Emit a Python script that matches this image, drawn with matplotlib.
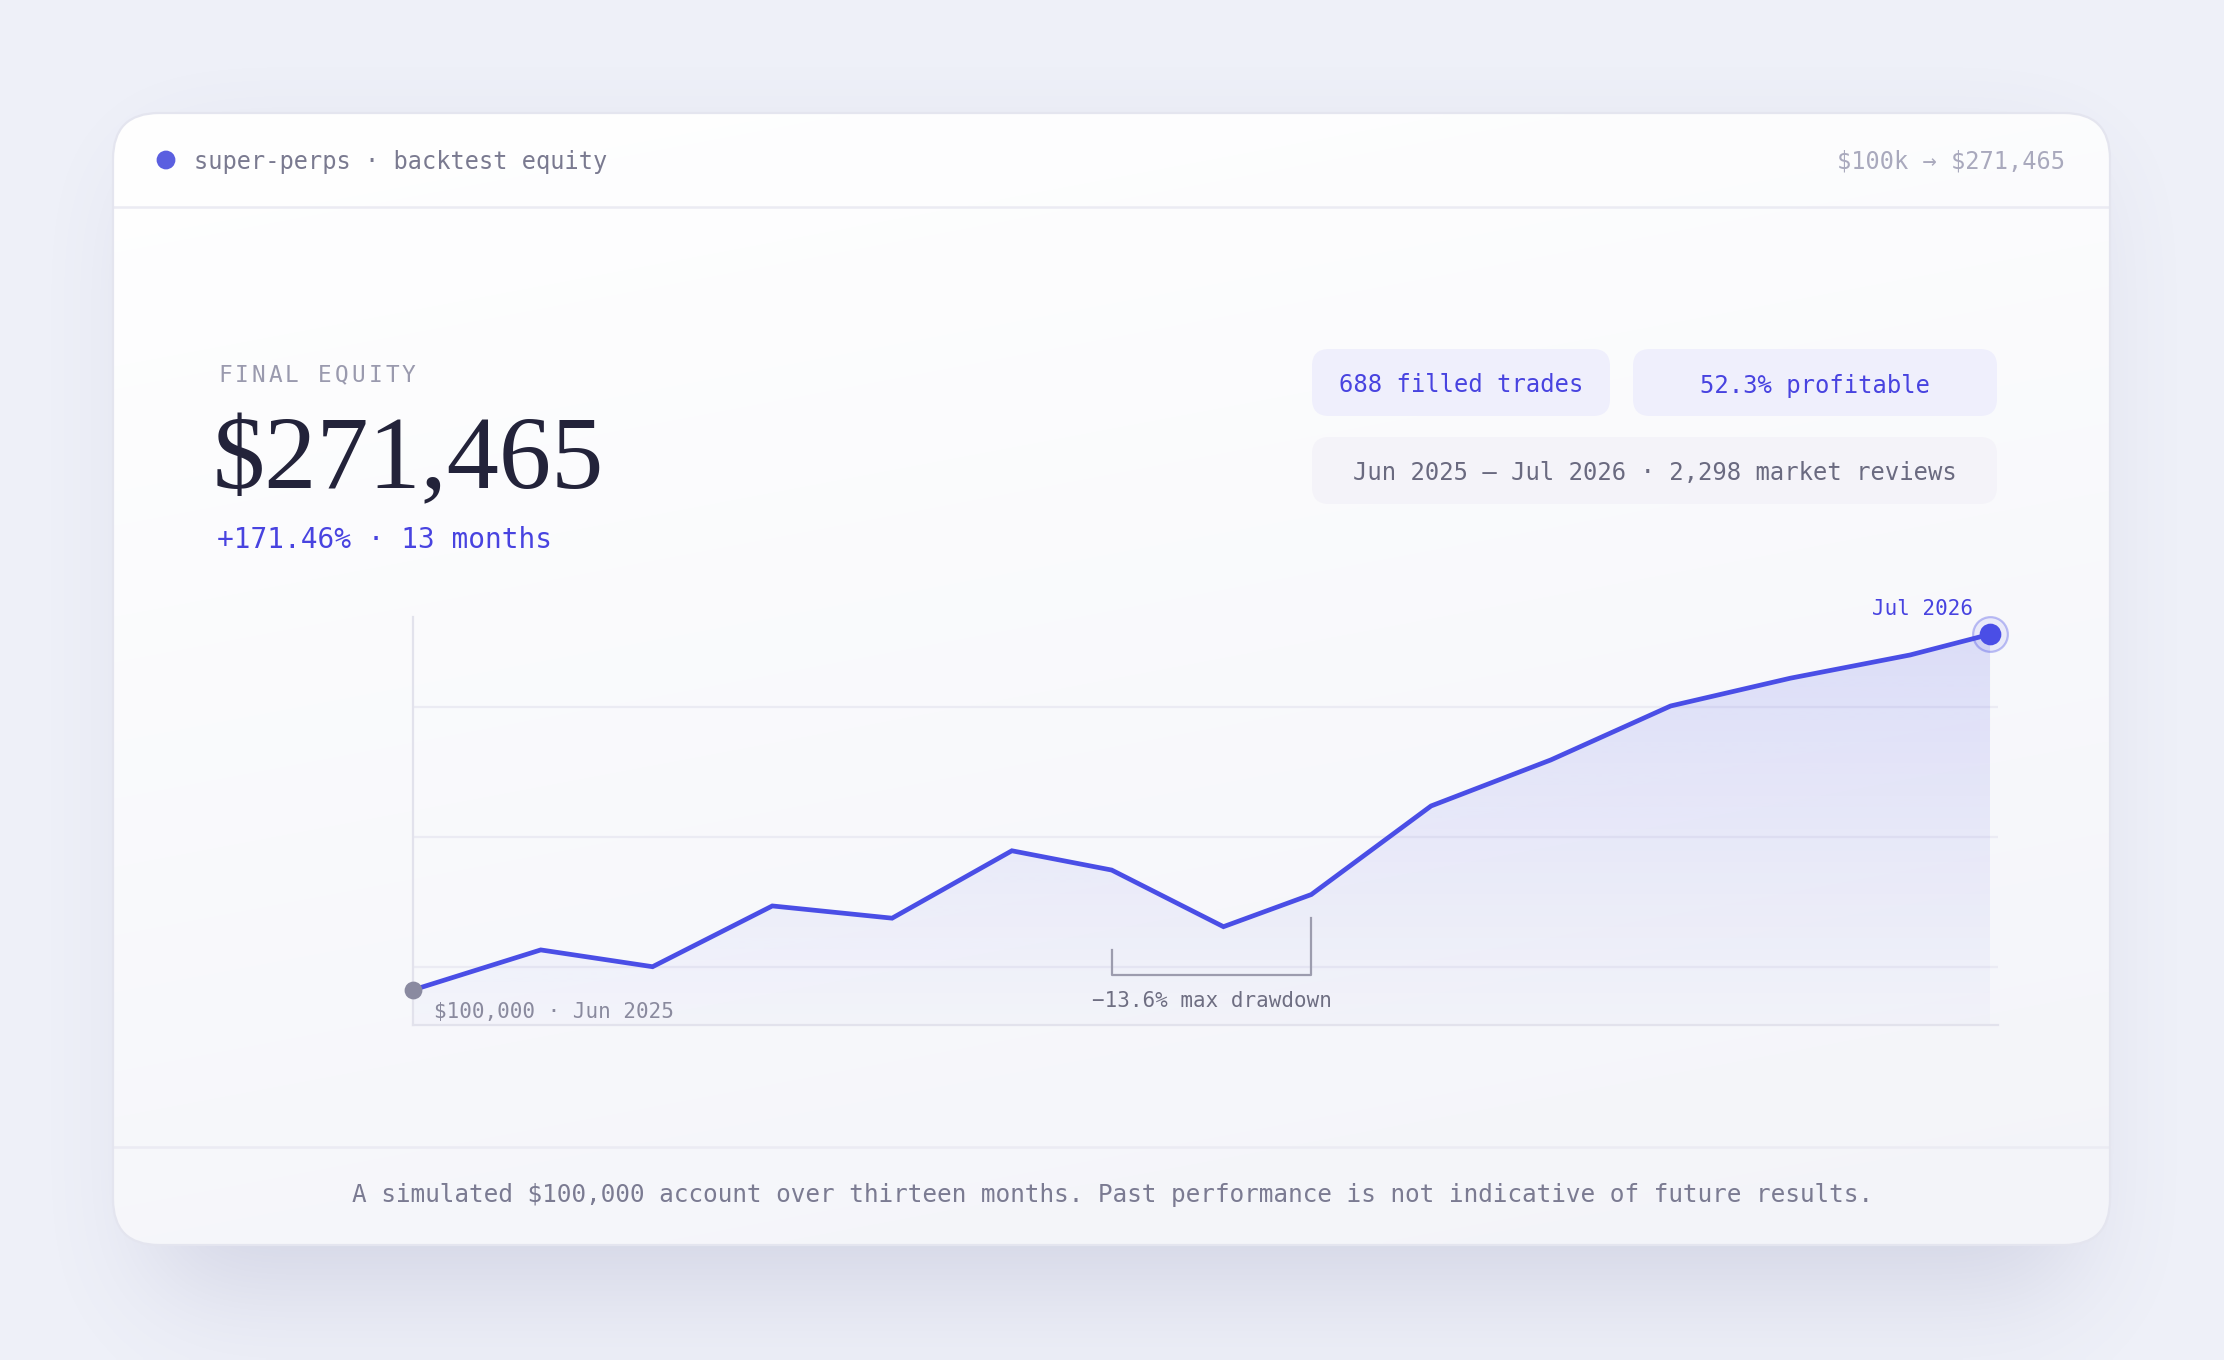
import matplotlib.pyplot as plt
import numpy as np
from matplotlib.patches import FancyBboxPatch, Circle

plt.rcParams['text.parse_math'] = False

# ---- data ----
days = [0, 32, 60, 90, 120, 150, 175, 203, 225, 255, 285, 315, 345, 375, 395]
equity = [100000, 119300, 111200, 140500, 134600, 167100, 157800, 130500,
          146000, 188700, 210900, 236900, 250300, 261500, 271465]
grid_values = [111200, 173900, 236600]
dd_start, dd_end = 175, 225
dd_bracket = [119300, 134700, 107200]   # left top, right top, bottom

header_left = 'super-perps · backtest equity'
header_right = '$100k → $271,465'
kicker = 'FINAL EQUITY'
final_value = '$271,465'
gain_text = '+171.46% · 13 months'
pills = ['688 filled trades', '52.3% profitable']
period_text = 'Jun 2025 — Jul 2026 · 2,298 market reviews'
start_label = '$100,000 · Jun 2025'
end_label = 'Jul 2026'
drawdown_label = '−13.6% max drawdown'
footer_text = ('A simulated $100,000 account over thirteen months. '
               'Past performance is not indicative of future results.')

# ---- style ----
W, H, DPI = 2224, 1360, 200
BG = '#eef0f8'
INDIGO = '#4a4ee6'
INDIGO_TXT = '#4843e0'
MONO = ['DejaVu Sans Mono', 'DejaVu Sans']

fig = plt.figure(figsize=(W / DPI, H / DPI), dpi=DPI, facecolor=BG)
bg = fig.add_axes([0, 0, 1, 1])
bg.set_xlim(0, W)
bg.set_ylim(H, 0)
bg.axis('off')

# soft shadow under the card
s = 4
hh, ww = H // s, W // s
yy, xx = np.mgrid[0:hh, 0:ww]
cx0, cx1, cy0, cy1, r = 150 / s, 2075 / s, 165 / s, 1290 / s, 50 / s
dx = np.maximum(np.maximum(cx0 + r - xx, xx - (cx1 - r)), 0)
dy = np.maximum(np.maximum(cy0 + r - yy, yy - (cy1 - r)), 0)
mask = ((dx ** 2 + dy ** 2) <= r ** 2).astype(float)


def box_blur(a, k):
    for axis in (0, 1):
        c = np.cumsum(np.pad(a, [(k + 1, k) if i == axis else (0, 0) for i in range(2)], mode='edge'), axis=axis)
        if axis == 0:
            a = (c[2 * k + 1:] - c[:-2 * k - 1]) / (2 * k + 1)
        else:
            a = (c[:, 2 * k + 1:] - c[:, :-2 * k - 1]) / (2 * k + 1)
    return a


for _ in range(3):
    mask = box_blur(mask, 12)
shadow = np.zeros((hh, ww, 4))
shadow[..., 0], shadow[..., 1], shadow[..., 2] = 0.42, 0.44, 0.62
shadow[..., 3] = mask * 0.2
bg.imshow(shadow, extent=[0, W, H, 0], zorder=0, interpolation='bilinear', aspect='auto')

# card
card = FancyBboxPatch((113, 113), 1997, 1132, boxstyle='round,pad=0,rounding_size=46',
                      facecolor='none', edgecolor='#e4e5ef', linewidth=0.8, zorder=3)
bg.add_patch(card)
gy, gx = np.mgrid[0:1:200j, 0:1:300j]
t = np.clip(0.75 * gy + 0.25 * gx, 0, 1)
top = np.array([1.0, 1.0, 1.0])
bot = np.array([0xf3, 0xf4, 0xf9]) / 255
grad = top[None, None, :] * (1 - t[..., None]) + bot[None, None, :] * t[..., None]
im = bg.imshow(grad, extent=[113, 2110, 1245, 113], zorder=1, aspect='auto', interpolation='bilinear')
im.set_clip_path(card)
bg.set_xlim(0, W)
bg.set_ylim(H, 0)

# header and footer dividers
bg.plot([113, 2110], [207, 207], color='#ebebf3', lw=0.9, zorder=2)
bg.plot([113, 2110], [1147, 1147], color='#ebebf3', lw=0.9, zorder=2)

# header
bg.add_patch(Circle((166, 160), 8, color='#5b5fe0', zorder=4))
bg.text(194, 162, header_left, family=MONO, fontsize=8.5, color='#7a7a90', va='center', ha='left', zorder=4)
bg.text(2065, 162, header_right, family=MONO, fontsize=8.5, color='#a9a9bd', va='center', ha='right', zorder=4)

# kicker with letter spacing
for i, ch in enumerate(kicker):
    bg.text(218 + i * 16.7, 375, ch, family=MONO, fontsize=8.2, color='#9a9aae', va='center', ha='left', zorder=4)

bg.text(213, 463, final_value, family=['Liberation Serif', 'DejaVu Serif'], fontsize=37.6,
        color='#23233a', va='center', ha='left', zorder=4)
bg.text(217, 540, gain_text, family=MONO, fontsize=10, color=INDIGO_TXT, va='center', ha='left', zorder=4)

# pills
pill_boxes = [(1312, 349, 298, 67), (1633, 349, 364, 67)]
for (x, y, w, h), label in zip(pill_boxes, pills):
    bg.add_patch(FancyBboxPatch((x, y), w, h, boxstyle='round,pad=0,rounding_size=17',
                                facecolor='#efeffc', edgecolor='none', zorder=3))
    bg.text(x + w / 2, y + h / 2 + 3, label, family=MONO, fontsize=8.6, color=INDIGO_TXT,
            va='center', ha='center', zorder=4)
bg.add_patch(FancyBboxPatch((1312, 437), 685, 67, boxstyle='round,pad=0,rounding_size=17',
                            facecolor='#f4f3f9', edgecolor='none', zorder=3))
bg.text(1654.5, 473, period_text, family=MONO, fontsize=8.6, color='#6a6a80', va='center', ha='center', zorder=4)

# footer
bg.text(1112, 1195, footer_text, family=MONO, fontsize=8.8, color='#7b7b92', va='center', ha='center', zorder=4)

# ---- equity chart ----
left, right, ytop, ybot = 413, 1998, 617, 1025
ax = fig.add_axes([left / W, (H - ybot) / H, (right - left) / W, (ybot - ytop) / H])
ax.set_facecolor('none')
xlim = (0, 397)
ylim = (83100, 279800)

for g in grid_values:
    ax.axhline(g, color='#ebebf3', lw=0.8, zorder=1)

poly = ax.fill_between(days, equity, ylim[0], facecolor='none', edgecolor='none')
alpha = np.linspace(0.16, 0.02, 256)
fill_img = np.zeros((256, 1, 4))
fill_img[..., :3] = np.array([0x4a, 0x4e, 0xe6]) / 255
fill_img[..., 3] = alpha[:, None]
fim = ax.imshow(fill_img, extent=[days[0], days[-1], ylim[0], max(equity)], origin='upper',
                aspect='auto', zorder=2, interpolation='bilinear')
fim.set_clip_path(poly.get_paths()[0], transform=ax.transData)

ax.plot(days, equity, color=INDIGO, lw=1.7, zorder=4, solid_joinstyle='miter', solid_capstyle='round')

# start marker
ax.plot(days[0], equity[0], 'o', ms=5.4, color='#8a8aa0', zorder=5, clip_on=False)
ax.annotate(start_label, (days[0], equity[0]), xytext=(7.5, -8), textcoords='offset points',
            family=MONO, fontsize=7.5, color='#8a8a9e', va='center', ha='left')

# end marker
ax.plot(days[-1], equity[-1], 'o', ms=12.5, markerfacecolor=(0.29, 0.31, 0.9, 0.08),
        markeredgecolor=(0.29, 0.31, 0.9, 0.35), markeredgewidth=0.8, zorder=5, clip_on=False)
ax.plot(days[-1], equity[-1], 'o', ms=6.8, color=INDIGO, zorder=6, clip_on=False)
ax.annotate(end_label, (days[-1], equity[-1]), xytext=(-6, 9.0), textcoords='offset points',
            family=MONO, fontsize=7.5, color=INDIGO_TXT, va='center', ha='right', annotation_clip=False)

# drawdown bracket
ax.plot([dd_start, dd_start, dd_end, dd_end], [dd_bracket[0], dd_bracket[2], dd_bracket[2], dd_bracket[1]],
        color='#9c9cae', lw=0.8, zorder=3)
ax.annotate(drawdown_label, ((dd_start + dd_end) / 2, dd_bracket[2]), xytext=(0, -9.4),
            textcoords='offset points', family=MONO, fontsize=7.5, color='#6e6e82', va='center', ha='center')

ax.set_xlim(*xlim)
ax.set_ylim(*ylim)
for side in ('top', 'right'):
    ax.spines[side].set_visible(False)
for side in ('left', 'bottom'):
    ax.spines[side].set_color('#e2e2ec')
    ax.spines[side].set_linewidth(0.8)
ax.set_xticks([])
ax.set_yticks([])

fig.savefig('out.png', dpi=DPI, facecolor=BG)
